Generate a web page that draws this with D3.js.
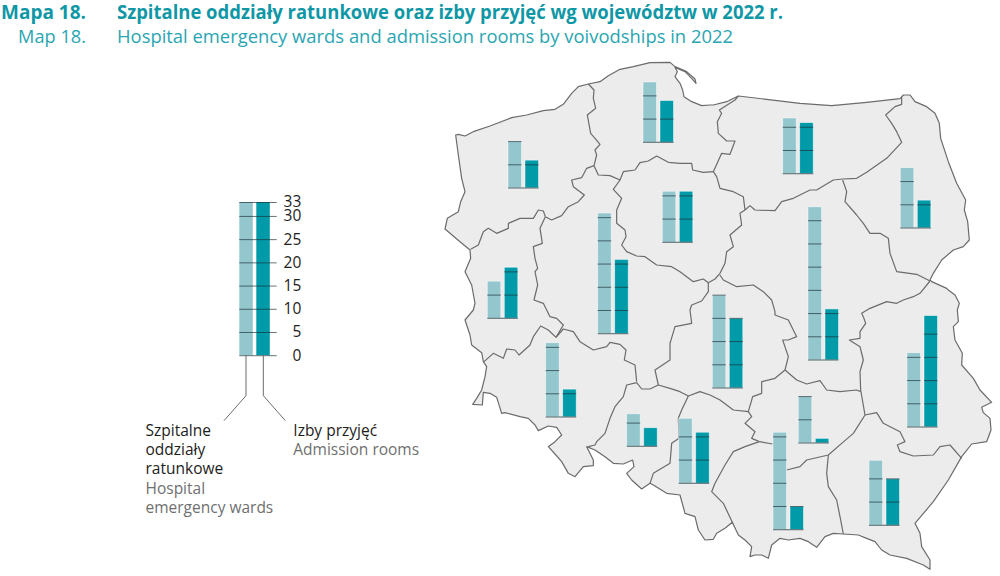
<!DOCTYPE html>
<html>
<head>
<meta charset="utf-8">
<style>
body { margin:0; background:#fff; }
svg { display:block; }
text { font-family:"Open Sans",sans-serif; }
</style>
<script src="https://cdnjs.cloudflare.com/ajax/libs/d3/7.8.5/d3.min.js"></script>
</head>
<body>
<script>
// voivodships and the values
var regions = ["zachodniopomorskie","pomorskie","warmińsko-mazurskie","podlaskie","kujawsko-pomorskie","wielkopolskie","lubuskie","mazowieckie","dolnośląskie","łódzkie","lubelskie","opolskie","świętokrzyskie","śląskie","małopolskie","podkarpackie"];
var wards =      [10,13,12,13,11,26, 8,33,16,20,16, 7,10,14,21,14];
var admissions = [ 6, 9,11, 6,11,16,11,11, 6,15,24, 4, 1,11, 5,10];

// where each little chart stands on the map (left edge, baseline)
var chartX = [508,643,782.7,900.3,662.3,597.7,487.3,808,545.7,712.3,907,626.7,798.3,678.7,773,869];
var chartY = [188,142.3,173.7,228,242.3,333.7,318.3,360,417,388,427,446.3,443,483.3,529.7,525.3];

var legendTicks = [0,5,10,15,20,25,30,33];
var gridStep = [5,10,15,20,25,30];

var legendTexts = [
  {x:145.5, y:436, t:"Szpitalne", c:"#1d1d1b"},
  {x:145.5, y:455, t:"oddziały", c:"#1d1d1b"},
  {x:145.5, y:474, t:"ratunkowe", c:"#1d1d1b"},
  {x:145.5, y:494, t:"Hospital", c:"#6f6f6f"},
  {x:145.5, y:513, t:"emergency wards", c:"#6f6f6f"},
  {x:293.3, y:436, t:"Izby przyjęć", c:"#1d1d1b"},
  {x:293.3, y:455, t:"Admission rooms", c:"#6f6f6f"}
];

// map traced in four crops, coordinates are 3x within the crop
var NW = [440,55], NE = [700,55], SW = [440,310], SE = [700,310], EE = [930,290];
function crop(o, pts) {
  return pts.map(function(p){ return [o[0]+p[0]/3, o[1]+p[1]/3]; });
}

var outline = [].concat(
  crop(NW, [[47,240],[55,238],[75,243],[100,230],[150,213],[215,188],[260,180],[310,167],[345,163],[370,148],[395,115],[415,95],[445,87],[480,80],[505,62],[540,43],[580,35],[630,23],[690,22],[705,35],[740,50],[765,72],[768,85],[755,70],[735,50],[705,37],[712,50],[705,65],[720,85],[728,105],[732,125],[755,140],[785,152],[810,150]]),
  crop(NE, [[40,150],[80,140],[115,123],[200,133],[300,145],[395,152],[500,142],[600,131],[610,120],[630,120],[645,140],[680,155],[705,175],[718,205],[722,250],[745,320],[770,385],[797,435],[793,465],[803,500],[808,555],[790,575],[760,585],[725,615],[700,655],[690,675],[695,680],[740,700]]),
  crop(EE, [[55,0],[75,15],[88,40],[82,60],[85,95],[70,110],[75,150],[97,190],[95,225],[130,265],[150,300],[185,337],[155,352],[160,368],[180,385],[183,420],[170,455],[125,462],[95,500]]),
  crop(SE, [[745,510],[700,575],[645,640],[660,670],[665,710],[690,750],[690,778],[670,765],[620,745],[570,735],[545,720],[525,695],[500,685],[475,675],[430,672],[400,670],[375,680],[350,712],[325,695],[300,685],[265,690],[240,685],[215,705],[205,745],[185,735],[165,735],[150,740],[155,710],[135,690],[115,675],[97,637],[75,655],[50,670],[40,688],[15,690]]),
  crop(SW, [[795,690],[775,660],[765,620],[735,610],[720,555],[680,550],[640,525],[630,520],[605,537],[575,510],[560,490],[582,470],[578,450],[550,462],[520,460],[495,440],[465,420],[440,410],[460,450],[460,467],[430,470],[405,500],[385,490],[365,455],[345,432],[325,410],[345,395],[365,375],[350,352],[325,348],[295,362],[285,345],[265,325],[240,320],[195,308],[185,310],[170,262],[150,250],[130,247],[127,285],[98,283],[110,265],[125,240],[135,200],[140,170],[130,155],[125,128],[95,105],[90,75],[75,30],[100,0]]),
  crop(NW, [[105,745],[95,690],[75,650],[92,610],[90,585],[60,560],[15,522],[22,490],[55,470],[62,440],[75,410],[65,370],[55,300]])
);

var borders = [
  crop(NW, [[445,87],[462,105],[460,130],[467,160],[442,180],[452,235],[465,250],[480,268],[465,285],[470,300],[462,332]]),
  crop(NW, [[462,332],[440,340],[425,368],[395,375],[400,395],[433,420],[415,440],[385,455],[365,482],[335,495],[316,485]]),
  crop(NW, [[316,485],[310,468],[295,465],[280,490],[240,490],[205,505],[205,520],[170,535],[145,520],[130,530],[115,570],[92,583]]),
  crop(NW, [[316,485],[300,520],[307,565],[280,575],[285,610],[293,640],[285,650],[293,690],[282,735],[310,745],[320,765]])
    .concat(crop(SW, [[330,20],[350,25],[370,45],[348,82]])),
  crop(SW, [[348,82],[325,60],[302,48],[280,80],[270,105],[237,135],[225,120],[200,117],[190,145],[160,130],[132,155]]),
  crop(SW, [[348,82],[370,57],[400,65],[420,95],[460,120],[500,110],[510,97],[540,103],[558,120],[553,150],[585,165],[590,215]]),
  crop(SW, [[590,218],[560,225],[550,260],[525,290],[510,325],[495,370],[470,395],[465,405],[445,410]]),
  crop(SW, [[590,218],[605,237],[630,237],[655,225],[690,235],[720,245],[745,258],[780,245],[810,255],[840,270]])
    .concat(crop(SE, [[100,300],[145,305]])),
  crop(SW, [[655,225],[645,180],[690,150],[690,100],[705,50],[755,40],[750,0]])
    .concat(crop(NW, [[755,750],[785,738],[805,710],[805,683]])),
  crop(NW, [[462,332],[475,360],[510,362],[540,375],[550,350],[585,345],[600,323],[625,318],[650,303],[685,322],[720,325],[755,325],[758,345],[790,352],[820,350]]),
  crop(NW, [[540,375],[520,403],[545,430],[530,465],[530,505],[555,525],[558,545],[545,570],[560,590],[590,603],[615,605],[650,630],[695,635],[720,650],[760,680],[790,672],[805,683]]),
  crop(NW, [[805,683],[825,672]]).concat(crop(NE, [[60,655],[75,625],[80,590],[100,575],[90,540],[125,510],[120,475],[135,465]])),
  crop(NE, [[135,465],[130,425],[100,410],[60,400],[50,365],[40,350]]),
  crop(NE, [[40,350],[65,295],[90,298],[105,258],[80,258],[55,235],[52,200],[65,175],[58,165],[105,135],[115,123]]),
  crop(NE, [[135,465],[150,452],[165,465],[225,467],[245,440],[280,430],[330,405],[350,405],[400,375],[428,372],[470,370],[500,352],[560,310],[605,262],[590,230],[575,205],[557,180],[585,155],[605,148],[605,125]]),
  crop(NE, [[428,375],[440,410],[435,440],[470,480],[490,505],[510,535],[540,535],[565,550],[570,595],[590,650],[650,658],[690,678]]),
  crop(NE, [[690,678],[660,715],[640,725],[610,735],[590,745],[560,740],[510,760],[485,775]])
    .concat(crop(SE, [[490,20],[497,40],[480,65],[480,85],[448,90],[480,110],[490,150],[480,185],[482,240],[495,315]])),
  crop(NE, [[60,660],[70,675],[110,695],[160,690],[190,710],[215,735],[225,770]])
    .concat(crop(SE, [[225,15],[265,30],[290,80],[265,90],[248,90],[265,140],[255,180]])),
  crop(SE, [[255,180],[290,210],[320,222],[360,212],[380,240],[420,245],[470,240],[482,245]]),
  crop(SE, [[255,180],[225,205],[185,215],[185,250],[158,260],[145,305],[155,320],[135,340],[165,365],[155,385],[178,395]]),
  crop(SE, [[178,395],[218,402]]),
  crop(SE, [[260,480],[300,470],[320,450],[385,435],[425,400],[460,370],[495,315]]),
  crop(SE, [[178,395],[135,410],[100,425],[75,465],[45,520],[35,545],[70,580],[97,637]]),
  crop(SE, [[385,435],[380,490],[385,530],[410,570],[420,620],[430,672]]),
  crop(SE, [[495,315],[530,308],[550,340],[600,365],[615,395],[592,405],[600,425],[640,438],[700,435],[720,410],[750,405],[785,445]]),
  crop(SW, [[745,258],[725,300],[715,325],[717,385],[695,400],[690,460],[640,490],[630,520]])
];

var svg = d3.select("body").append("svg").attr("width",1000).attr("height",576);

var light = "#94c6ce", dark = "#009aa8", tickInk = "rgba(30,50,55,0.68)";
var barW = 13.5, barGap = 3.5;
var barH = d3.scaleLinear().domain([0,33]).range([0,153.2]);

// titles
svg.append("text").attr("x",86).attr("y",19).attr("text-anchor","end")
  .attr("font-size",19).attr("font-weight",700).attr("fill","#0f97a6").text("Mapa 18.");
svg.append("text").attr("x",86).attr("y",43).attr("text-anchor","end")
  .attr("font-size",18.2).attr("fill","#2aa5b2").text("Map 18.");
svg.append("text").attr("x",117).attr("y",19)
  .attr("font-size",19).attr("font-weight",700).attr("fill","#0f97a6")
  .attr("textLength",666).attr("lengthAdjust","spacingAndGlyphs")
  .text("Szpitalne oddziały ratunkowe oraz izby przyjęć wg województw w 2022 r.");
svg.append("text").attr("x",117).attr("y",43)
  .attr("font-size",19).attr("fill","#2aa5b2")
  .attr("textLength",616).attr("lengthAdjust","spacingAndGlyphs")
  .text("Hospital emergency wards and admission rooms by voivodships in 2022");

// map
var line = d3.line();
svg.append("path").attr("d",line(outline)+"Z")
  .attr("fill","#ececed").attr("stroke","#6b6b6b").attr("stroke-width",1.2).attr("stroke-linejoin","round");
svg.append("g").selectAll("path").data(borders).join("path")
  .attr("d",line).attr("fill","none").attr("stroke","#6b6b6b").attr("stroke-width",1.2).attr("stroke-linejoin","round");

// one pair of bars per voivodship
var charts = svg.append("g").selectAll("g").data(regions).join("g")
  .attr("class","chart")
  .attr("transform",function(d,i){ return "translate("+chartX[i]+","+chartY[i]+")"; });

charts.each(function(d,i){
  var g = d3.select(this);
  var vals = [wards[i],admissions[i]];
  vals.forEach(function(v,k){
    var x = k*(barW+barGap);
    g.append("rect").attr("x",x).attr("y",-barH(v)).attr("width",barW).attr("height",barH(v))
      .attr("fill",k==0 ? light : dark).attr("stroke","#fff").attr("stroke-opacity",0.6).attr("stroke-width",0.8);
    gridStep.filter(function(t){ return t<=v; }).forEach(function(t){
      g.append("line").attr("x1",x).attr("x2",x+barW).attr("y1",-barH(t)).attr("y2",-barH(t))
        .attr("stroke",tickInk).attr("stroke-width",1);
    });
  });
  g.append("line").attr("x1",0).attr("x2",2*barW+barGap).attr("y1",0).attr("y2",0)
    .attr("stroke","#5f6f72").attr("stroke-width",1.1);
});

// legend
var legX = 239.3, legBase = 355.2;
var legY = d3.scaleLinear().domain([0,33]).range([legBase,legBase-153.2]);
var leg = svg.append("g");
leg.append("rect").attr("x",legX).attr("y",legY(33)).attr("width",barW).attr("height",legBase-legY(33)).attr("fill",light);
leg.append("rect").attr("x",legX+barW+barGap).attr("y",legY(33)).attr("width",barW).attr("height",legBase-legY(33)).attr("fill",dark);

var axis = svg.append("g").attr("transform","translate("+legX+",0)")
  .call(d3.axisRight(legY).tickValues(legendTicks).tickSize(37.4).tickSizeOuter(0).tickFormat(d3.format("d")));
axis.select(".domain").remove();
axis.selectAll("line").attr("stroke",tickInk).attr("stroke-width",1);
axis.selectAll("text").attr("x",62).attr("text-anchor","end").attr("font-size",15.5)
  .attr("font-family","'Open Sans',sans-serif").attr("fill","#1d1d1b");

var leaders = [
  crop([130,190],[[348,495],[348,617],[282,692]]),
  crop([130,190],[[400,495],[400,617],[466,692]])
];
svg.append("g").selectAll("path").data(leaders).join("path")
  .attr("d",line).attr("fill","none").attr("stroke","#6b6b6b").attr("stroke-width",1);

svg.append("g").selectAll("text").data(legendTexts).join("text")
  .attr("x",function(d){ return d.x; }).attr("y",function(d){ return d.y; })
  .attr("font-size",15.5).attr("fill",function(d){ return d.c; }).text(function(d){ return d.t; });
</script>
</body>
</html>
